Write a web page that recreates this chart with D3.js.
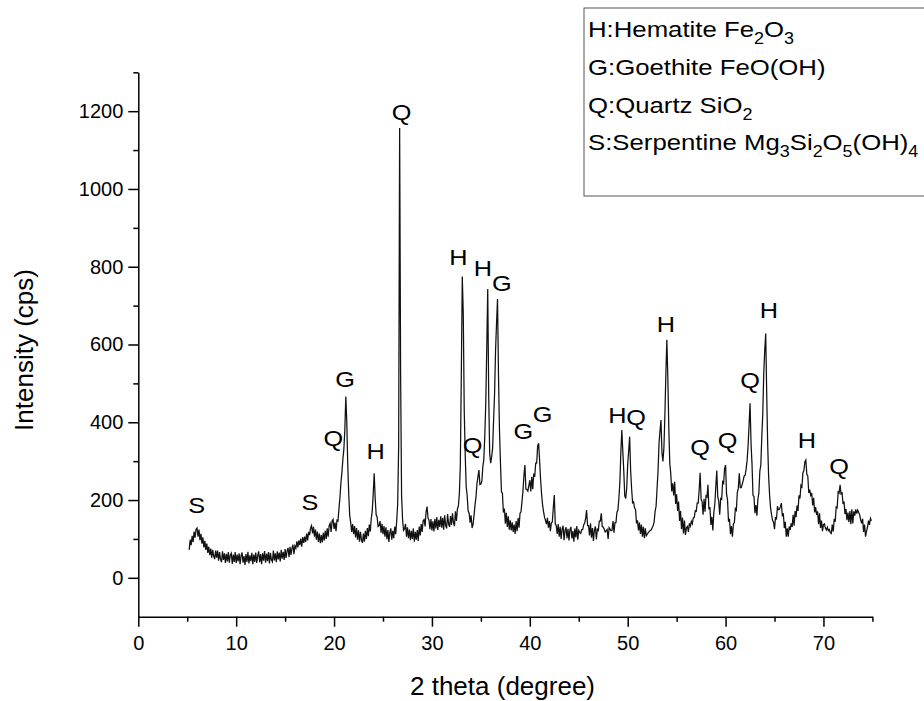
<!DOCTYPE html>
<html>
<head>
<meta charset="utf-8">
<title>XRD pattern</title>
<script src="https://cdn.jsdelivr.net/npm/d3@7"></script>
<style>
  html, body { margin: 0; padding: 0; background: #fff; }
  svg { display: block; }
  text { font-family: Arial, "Liberation Sans", sans-serif; fill: #000; }
</style>
</head>
<body>
<div id="xrd-chart"></div>
<script>
// ===============================================
// XRD PATTERN - 2 theta vs intensity
// ===============================================

// Scan: each row = [first 2theta, intensities every 0.1 deg]
const scanStep = 0.1;
const scanRows = [
  [5.2, [72, 98, 84, 108, 92, 119, 103, 125]],
  [6,  [128, 106, 124, 97, 113, 88, 104, 78, 95, 72]],
  [7,  [88, 64, 80, 58, 75, 52, 72, 56, 48, 70]],
  [8,  [52, 70, 44, 66, 48, 40, 68, 46, 63, 38]],
  [9,  [62, 42, 66, 39, 58, 63, 36, 60, 41, 66]],
  [10, [38, 60, 42, 63, 35, 57, 65, 39, 56, 33]],
  [11, [61, 41, 67, 37, 58, 43, 64, 35, 60, 41]],
  [12, [65, 38, 57, 68, 40, 61, 35, 63, 44, 69]],
  [13, [39, 62, 43, 66, 37, 64, 46, 41, 70, 45]],
  [14, [63, 40, 68, 47, 65, 42, 72, 49, 67, 46]],
  [15, [74, 51, 69, 77, 53, 80, 59, 76, 85, 61]],
  [16, [82, 76, 94, 78, 96, 84, 101, 80, 105, 90]],
  [17, [106, 92, 114, 96, 118, 110, 128, 134, 114, 131]],
  [18, [106, 124, 98, 119, 92, 114, 89, 110, 91, 116]],
  [19, [96, 121, 100, 127, 106, 134, 140, 118, 146, 150]],
  [20, [126, 142, 120, 148, 146, 178, 206, 244, 271, 305]],
  [21, [330, 380, 466, 400, 290, 215, 160, 142, 118, 138]],
  [22, [112, 133, 104, 128, 98, 122, 93, 118, 97, 90]],
  [23, [114, 93, 121, 100, 128, 107, 137, 119, 152, 172]],
  [24, [215, 269, 205, 162, 156, 132, 134, 146, 116, 139]],
  [25, [112, 133, 106, 130, 99, 123, 92, 116, 127, 98]],
  [26, [121, 102, 132, 112, 146, 190, 340, 1157, 520, 210]],
  [27, [150, 122, 126, 139, 106, 130, 102, 124, 97, 121]],
  [28, [100, 127, 93, 118, 98, 123, 95, 132, 109, 138]],
  [29, [118, 147, 150, 132, 169, 183, 154, 148, 125, 151]],
  [30, [122, 145, 119, 152, 127, 156, 123, 149, 131, 158]],
  [31, [129, 154, 124, 161, 135, 127, 164, 138, 131, 159]],
  [32, [136, 166, 142, 133, 171, 146, 177, 185, 215, 290]],
  [33, [520, 775, 680, 430, 316, 234, 211, 172, 166, 142]],
  [34, [161, 128, 137, 160, 187, 208, 242, 260, 277, 240]],
  [35, [241, 249, 286, 304, 366, 450, 590, 743, 470, 320]],
  [36, [295, 311, 334, 406, 474, 586, 654, 717, 520, 380]],
  [37, [296, 222, 217, 168, 178, 139, 167, 131, 158, 124]],
  [38, [148, 122, 143, 118, 137, 113, 146, 120, 154, 129]],
  [39, [166, 170, 196, 223, 264, 290, 228, 227, 223, 237]],
  [40, [251, 222, 260, 228, 268, 260, 295, 295, 339, 346]],
  [41, [302, 253, 216, 188, 171, 156, 148, 138, 154, 129]],
  [42, [146, 120, 141, 144, 181, 213, 139, 134, 113, 138]],
  [43, [106, 131, 100, 125, 134, 97, 122, 130, 102, 126]],
  [44, [96, 124, 131, 101, 120, 93, 127, 104, 133, 98]],
  [45, [122, 117, 114, 124, 124, 136, 141, 152, 174, 134]],
  [46, [134, 109, 140, 103, 128, 95, 123, 132, 99, 125]],
  [47, [122, 146, 146, 166, 132, 130, 125, 118, 121, 124]],
  [48, [100, 129, 125, 121, 122, 146, 116, 142, 142, 168]],
  [49, [175, 204, 246, 323, 380, 326, 274, 211, 204, 231]],
  [50, [292, 326, 363, 276, 229, 193, 195, 180, 176, 140]],
  [51, [148, 122, 142, 113, 137, 106, 131, 102, 127, 108]],
  [52, [112, 116, 119, 122, 123, 129, 134, 144, 171, 184]],
  [53, [230, 275, 345, 378, 406, 322, 299, 335, 418, 525]],
  [54, [612, 515, 385, 295, 268, 222, 243, 212, 247, 190]],
  [55, [215, 172, 196, 146, 172, 125, 155, 114, 147, 110]],
  [56, [129, 132, 118, 140, 133, 145, 139, 154, 155, 172]],
  [57, [171, 192, 192, 226, 270, 202, 196, 162, 203, 170]],
  [58, [211, 208, 239, 176, 182, 136, 157, 122, 168, 189]],
  [59, [234, 276, 208, 198, 162, 204, 202, 247, 243, 281]],
  [60, [290, 216, 200, 144, 152, 112, 133, 106, 139, 142]],
  [61, [178, 174, 220, 230, 269, 232, 232, 241, 250, 262]],
  [62, [264, 280, 302, 339, 394, 449, 346, 293, 212, 209]],
  [63, [166, 187, 160, 202, 218, 274, 290, 362, 422, 526]],
  [64, [585, 628, 476, 345, 260, 212, 179, 162, 148, 143]],
  [65, [125, 156, 150, 184, 175, 176, 183, 192, 158, 166]],
  [66, [128, 144, 106, 127, 106, 132, 123, 140, 131, 162]],
  [67, [134, 172, 156, 186, 172, 212, 204, 238, 234, 270]],
  [68, [276, 298, 303, 266, 262, 218, 227, 212, 218, 186]],
  [69, [206, 168, 182, 162, 171, 138, 166, 128, 147, 120]],
  [70, [137, 139, 128, 123, 130, 121, 124, 116, 114, 137]],
  [71, [119, 152, 144, 182, 180, 221, 218, 239, 214, 220]],
  [72, [190, 196, 164, 177, 148, 168, 143, 172, 138, 176]],
  [73, [140, 171, 160, 176, 165, 174, 168, 162, 149, 140]],
  [74, [152, 118, 137, 106, 120, 130, 147, 136, 153, 147]]
];

// Phase labels over the peaks (text baseline in data units)
const peakNames = ["S", "S", "Q", "G", "H", "Q", "H", "Q", "H", "G", "G", "G",
                   "H", "Q", "H", "Q", "Q", "Q", "H", "H", "Q"];
const peakTheta = [5.96, 17.54, 19.92, 21.12, 24.25, 26.91, 32.7, 34.16, 35.2, 37.13, 39.33, 41.31,
                   48.94, 50.85, 53.91, 57.4, 60.2, 62.5, 64.43, 68.3, 71.59];
const peakLabelY = [166, 174, 339, 491, 305, 1177, 804, 321, 776, 738, 357, 401,
                    397, 393, 633, 315, 333, 487, 667, 335, 268];

// Legend lines: [text, isSubscript] pieces
const legendLines = [
  [["H:Hematite Fe", 0], ["2", 1], ["O", 0], ["3", 1]],
  [["G:Goethite FeO(OH)", 0]],
  [["Q:Quartz SiO", 0], ["2", 1]],
  [["S:Serpentine Mg", 0], ["3", 1], ["Si", 0], ["2", 1], ["O", 0], ["5", 1], ["(OH)", 0], ["4", 1]]
];

const xMajorTicks = [0, 10, 20, 30, 40, 50, 60, 70];
const xMinorTicks = [5, 15, 25, 35, 45, 55, 65, 75];
const yMajorTicks = [0, 200, 400, 600, 800, 1000, 1200];
const yMinorTicks = [100, 300, 500, 700, 900, 1100, 1300];

const width = 924;
const height = 701;

const svg = d3.select("#xrd-chart")
  .append("svg")
  .attr("width", width)
  .attr("height", height);

const x = d3.scaleLinear().domain([0, 75]).range([138.3, 872.4]);
const y = d3.scaleLinear().domain([-100, 1300]).range([616.7, 72.3]);

// flatten rows into points
const points = [];
scanRows.forEach(([start, vals]) => {
  vals.forEach((v, i) => {
    points.push([+(start + i * scanStep).toFixed(2), v]);
  });
});

// Trace
svg.append("path")
  .datum(points)
  .attr("fill", "none")
  .attr("stroke", "#111")
  .attr("stroke-width", 1.25)
  .attr("stroke-linejoin", "miter")
  .attr("d", d3.line().x(d => x(d[0])).y(d => y(d[1])));

// Axes
svg.append("g")
  .attr("transform", `translate(0,${y(-100)})`)
  .call(d3.axisBottom(x).tickValues(xMajorTicks).tickSize(10).tickPadding(9).tickSizeOuter(0));
svg.append("g")
  .attr("transform", `translate(0,${y(-100)})`)
  .call(d3.axisBottom(x).tickValues(xMinorTicks).tickSize(5).tickFormat("").tickSizeOuter(0))
  .select(".domain").remove();

svg.append("g")
  .attr("transform", `translate(${x(0)},0)`)
  .call(d3.axisLeft(y).tickValues(yMajorTicks).tickFormat(d3.format("d"))
    .tickSize(10).tickPadding(5).tickSizeOuter(0));
svg.append("g")
  .attr("transform", `translate(${x(0)},0)`)
  .call(d3.axisLeft(y).tickValues(yMinorTicks).tickSize(5).tickFormat("").tickSizeOuter(0))
  .select(".domain").remove();

svg.selectAll(".domain, .tick line")
  .attr("stroke", "#000")
  .attr("stroke-width", 1.5);
svg.selectAll(".tick text")
  .attr("font-family", "Arial, 'Liberation Sans', sans-serif")
  .attr("font-size", "20px")
  .attr("fill", "#000");

// Axis titles
svg.append("text")
  .attr("x", 502.5)
  .attr("y", 695)
  .attr("text-anchor", "middle")
  .attr("font-size", "26px")
  .text("2 theta (degree)");

svg.append("text")
  .attr("transform", "translate(33,350) rotate(-90)")
  .attr("text-anchor", "middle")
  .attr("font-size", "26px")
  .text("Intensity (cps)");

// Peak labels (the original glyphs are a bit wider than Arial)
svg.append("g")
  .selectAll("text")
  .data(peakNames)
  .join("text")
  .attr("transform", (d, i) => `translate(${x(peakTheta[i])},${y(peakLabelY[i])}) scale(1.15,1)`)
  .attr("text-anchor", "middle")
  .attr("font-size", "22px")
  .text(d => d);

// Legend box
const legend = svg.append("g");
legend.append("rect")
  .attr("x", 584)
  .attr("y", 8)
  .attr("width", 360)
  .attr("height", 188)
  .attr("fill", "#fff")
  .attr("stroke", "#555")
  .attr("stroke-width", 1);

const legendBaselines = [36.7, 75, 113, 150];
legendLines.forEach((pieces, li) => {
  const t = legend.append("text")
    .attr("transform", `translate(588,${legendBaselines[li]}) scale(1.12,1)`)
    .attr("font-size", "23px");
  let sub = 0;
  pieces.forEach(([txt, isSub]) => {
    const dy = isSub === sub ? 0 : (isSub ? 7 : -7);
    sub = isSub;
    t.append("tspan")
      .attr("dy", dy)
      .attr("font-size", isSub ? "16px" : "23px")
      .text(txt);
  });
});
</script>
</body>
</html>
